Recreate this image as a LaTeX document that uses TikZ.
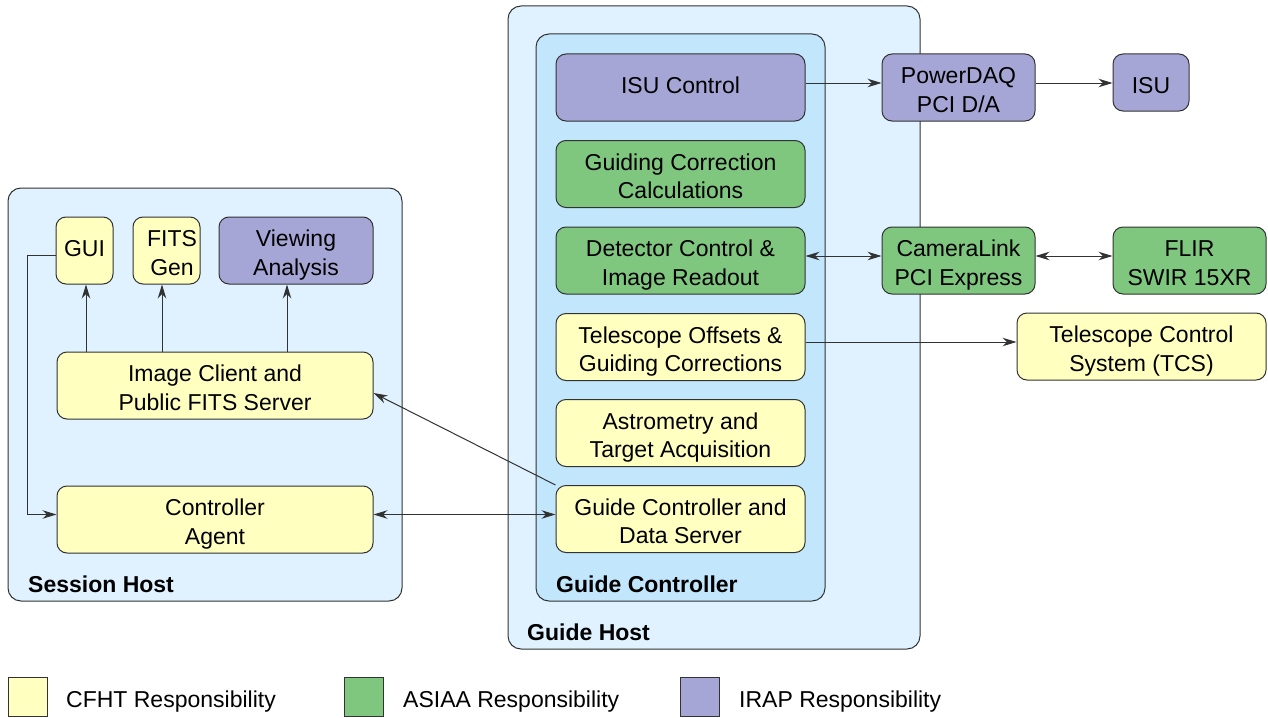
\documentclass[tikz,border=0pt]{standalone}
\usepackage{fontspec}
\setmainfont{Liberation Sans}
\usetikzlibrary{arrows.meta}

\definecolor{cfhtfill}{RGB}{255,255,192}
\definecolor{asiaafill}{RGB}{127,199,127}
\definecolor{irapfill}{RGB}{166,166,214}
\definecolor{hostfill}{RGB}{224,242,255}
\definecolor{ctrlfill}{RGB}{194,230,252}
\definecolor{edge}{RGB}{50,50,50}

% struts that fix where the lines of a box sit
\newcommand{\hitop}{\rule{0pt}{27pt}}
\newcommand{\hione}{\rule{0pt}{17pt}}
\newcommand{\lobot}{\rule[-6pt]{0pt}{6pt}}

\tikzset{
  unit/.style={draw=edge, line width=1pt, rounded corners=10pt, inner sep=0pt,
    align=center, font=\fontsize{23}{28.5}\selectfont},
  cfht/.style={unit, fill=cfhtfill},
  asiaa/.style={unit, fill=asiaafill},
  irap/.style={unit, fill=irapfill},
  host/.style={draw=edge, line width=1pt, rounded corners=13pt, fill=hostfill, inner sep=0pt},
  ctrl/.style={host, fill=ctrlfill},
  grouplabel/.style={anchor=base west, inner sep=0pt, font=\fontsize{23}{28}\selectfont\bfseries},
  legendtext/.style={anchor=base west, inner sep=0pt, font=\fontsize{23}{28}\selectfont},
  legendbox/.style={draw=edge, line width=1pt},
  arr/.style={draw=edge, line width=1pt, -{Stealth[length=14pt,width=8.5pt,inset=4.5pt]}},
  biarr/.style={draw=edge, line width=1pt, {Stealth[length=14pt,width=8.5pt,inset=4.5pt]}-{Stealth[length=14pt,width=8.5pt,inset=4.5pt]}},
}

\begin{document}
\begin{tikzpicture}[x=1pt, y=-1pt]
\useasboundingbox (0,0) rectangle (1268,717);

% ---- group boxes ----
\node[host, minimum width=394pt, minimum height=413pt] (sh) at (205,394.5) {};
\node[host, minimum width=412pt, minimum height=643pt] (gh) at (714,327.5) {};
\node[ctrl, minimum width=289pt, minimum height=567pt] (gc) at (680.5,317.5) {};

\node[grouplabel] (shl) at (28,592) {Session Host};
\node[grouplabel] (gcl) at (556,592) {Guide Controller};
\node[grouplabel] (ghl) at (527,640) {Guide Host};

% ---- session host ----
\node[cfht, minimum width=57pt, minimum height=67pt] (gui) at (84.5,250.5) {\hione GUI\lobot};
\node[cfht, minimum width=67pt, minimum height=67pt,
  label={[xshift=5.5pt, align=center, inner sep=0pt, font=\fontsize{23}{28.5}\selectfont]center:\hitop FITS\\Gen\lobot}] (fits) at (166.5,250.5) {};
\node[irap, minimum width=154pt, minimum height=67pt] (view) at (296,250.5) {\hitop Viewing\\Analysis\lobot};
\node[cfht, minimum width=316pt, minimum height=67pt] (icfs) at (215,385.5) {\hitop Image Client and\\Public FITS Server\lobot};
\node[cfht, minimum width=316pt, minimum height=67pt] (ca) at (215,519.5) {\hitop Controller\\Agent\lobot};

% ---- guide controller ----
\node[irap,  minimum width=249pt, minimum height=67pt] (isuc) at (680.5,87.5) {\hione ISU Control\lobot};
\node[asiaa, minimum width=249pt, minimum height=67pt] (gcc)  at (680.5,174) {\hitop Guiding Correction\\Calculations\lobot};
\node[asiaa, minimum width=249pt, minimum height=67pt] (dcir) at (680.5,260.5) {\hitop Detector Control \&\\Image Readout\lobot};
\node[cfht,  minimum width=249pt, minimum height=67pt] (tog)  at (680.5,347) {\hitop Telescope Offsets \&\\Guiding Corrections\lobot};
\node[cfht,  minimum width=249pt, minimum height=67pt] (atg)  at (680.5,433) {\hitop Astrometry and\\Target Acquisition\lobot};
\node[cfht,  minimum width=249pt, minimum height=67pt] (gcds) at (680.5,519) {\hitop Guide Controller and\\Data Server\lobot};

% ---- hardware and external systems ----
\node[irap,  minimum width=153pt, minimum height=67pt] (pdaq) at (958.5,87.5) {\hitop PowerDAQ\\PCI D/A\lobot};
\node[irap,  minimum width=76pt,  minimum height=57pt] (isu)  at (1151,82.5) {\hitop ISU\lobot};
\node[asiaa, minimum width=153pt, minimum height=67pt] (clpe) at (958.5,260.5) {\hitop CameraLink\\PCI Express\lobot};
\node[asiaa, minimum width=153pt, minimum height=67pt] (flir) at (1189.5,260.5) {\hitop FLIR\\SWIR 15XR\lobot};
\node[cfht,  minimum width=249pt, minimum height=67pt] (tcs)  at (1141.5,346.5) {\hitop Telescope Control\\System (TCS)\lobot};

% ---- connectors ----
\draw[arr] ([yshift=4.5pt]isuc.east) -- ([yshift=4.5pt]isuc.east -| pdaq.west);
\draw[arr] ([yshift=4.5pt]pdaq.east) -- ([yshift=4.5pt]pdaq.east -| isu.west);
\draw[biarr] ([yshift=4.5pt]dcir.east) -- ([yshift=4.5pt]dcir.east -| clpe.west);
\draw[biarr] ([yshift=4.5pt]clpe.east) -- ([yshift=4.5pt]clpe.east -| flir.west);
\draw[arr] ([yshift=5pt]tog.east) -- ([yshift=5pt]tog.east -| tcs.west);

\draw[arr] ([xshift=1.5pt]gui.south |- icfs.north) -- ([xshift=1.5pt]gui.south);
\draw[arr] ([xshift=-4.5pt]fits.south |- icfs.north) -- ([xshift=-4.5pt]fits.south);
\draw[arr] ([xshift=-9pt]view.south |- icfs.north) -- ([xshift=-9pt]view.south);

\draw[arr] ([yshift=-5pt]gui.west) -- ++(-28.5,0) |- ([yshift=5pt]ca.west);
\draw[biarr] ([yshift=5pt]ca.east) -- ([yshift=5pt]ca.east -| gcds.west);
\draw[arr] (gcds.north west) -- ([yshift=-7.5pt]icfs.east);

% ---- legend ----
\draw[legendbox, fill=cfhtfill]  (8,677) rectangle (47,716.5);
\draw[legendbox, fill=asiaafill] (344,677) rectangle (383,716.5);
\draw[legendbox, fill=irapfill]  (680,677) rectangle (719,716.5);
\node[legendtext] (lg1) at (66,707) {CFHT Responsibility};
\node[legendtext] (lg2) at (403,707) {ASIAA Responsibility};
\node[legendtext] (lg3) at (739,707) {IRAP Responsibility};
\end{tikzpicture}
\end{document}
